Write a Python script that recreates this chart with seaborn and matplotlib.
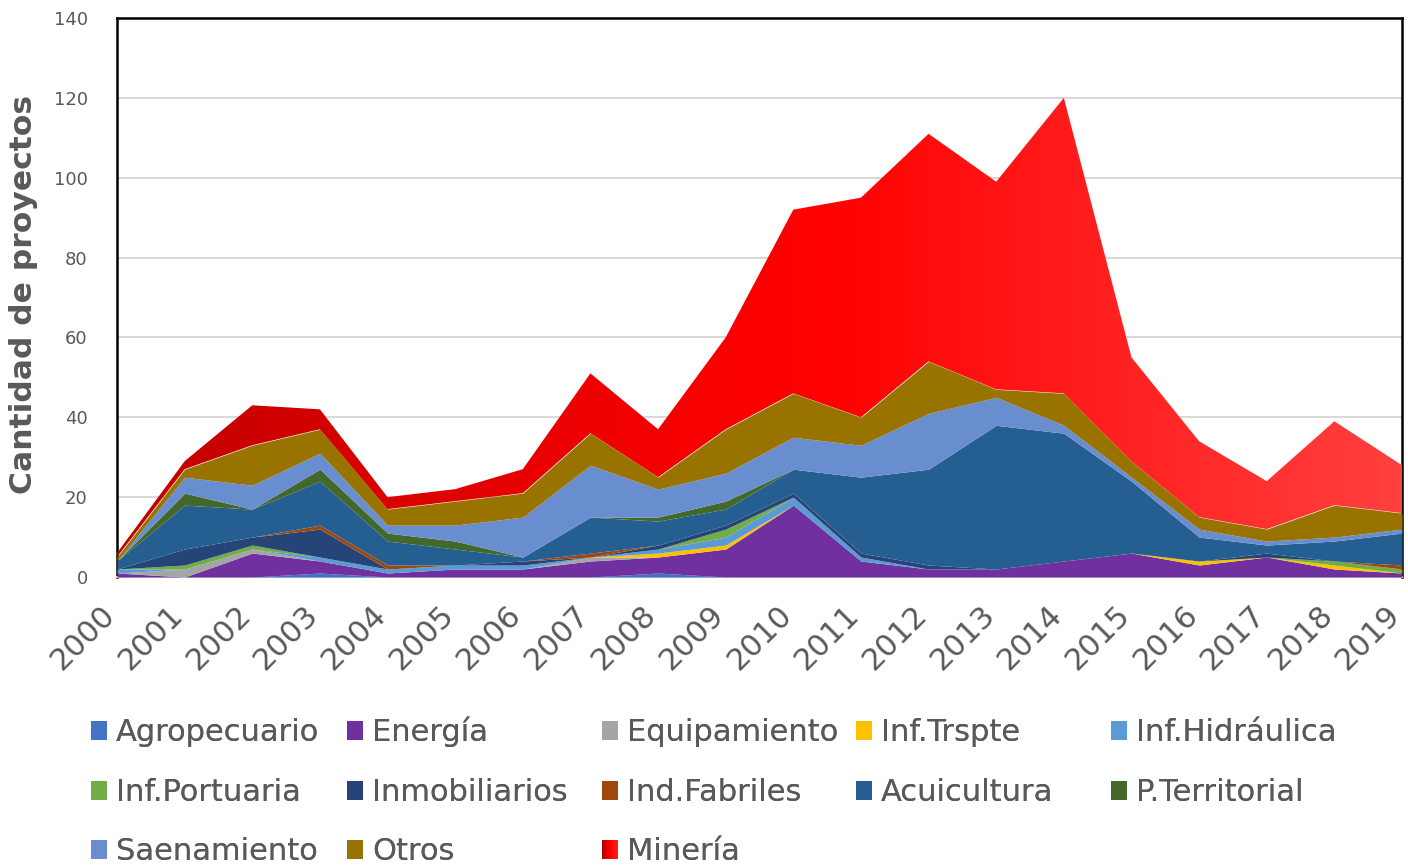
import numpy as np
import pandas as pd
import matplotlib
matplotlib.use("Agg")
import matplotlib.pyplot as plt
import seaborn as sns
from matplotlib.colors import LinearSegmentedColormap
from matplotlib.patches import Rectangle
from matplotlib.legend_handler import HandlerBase
from matplotlib.transforms import ScaledTranslation

# ---------------- data ----------------
years = list(range(2000, 2020))
agropecuario   = [0, 0, 0, 1, 0, 0, 0, 0, 1, 0, 0, 0, 0, 0, 0, 0, 0, 0, 0, 0]
energia        = [1, 0, 6, 3, 1, 2, 2, 4, 4, 7, 18, 4, 2, 2, 4, 6, 3, 5, 2, 1]
equipamiento   = [0, 2, 1, 0, 0, 0, 0, 1, 0, 0, 0, 0, 0, 0, 0, 0, 0, 0, 0, 0]
inf_trspte     = [0, 0, 0, 0, 0, 0, 0, 0, 1, 1, 0, 0, 0, 0, 0, 0, 1, 0, 1, 0]
inf_hidraulica = [1, 0, 0, 1, 1, 1, 1, 0, 1, 2, 2, 1, 0, 0, 0, 0, 0, 0, 0, 0]
inf_portuaria  = [0, 1, 1, 0, 0, 0, 0, 0, 0, 2, 0, 0, 0, 0, 0, 0, 0, 0, 1, 1]
inmobiliarios  = [0, 4, 2, 7, 0, 0, 1, 0, 1, 1, 1, 1, 1, 0, 0, 0, 0, 1, 0, 0]
ind_fabriles   = [0, 0, 0, 1, 1, 0, 0, 1, 0, 0, 0, 0, 0, 0, 0, 0, 0, 0, 0, 1]
acuicultura    = [2, 11, 7, 11, 6, 4, 1, 9, 6, 4, 6, 19, 24, 36, 32, 18, 6, 2, 5, 8]
p_territorial  = [0, 3, 0, 3, 2, 2, 0, 0, 1, 2, 0, 0, 0, 0, 0, 0, 0, 0, 0, 0]
saneamiento    = [0, 4, 6, 4, 2, 4, 10, 13, 7, 7, 8, 8, 14, 7, 2, 1, 2, 1, 1, 1]
otros          = [1, 2, 10, 6, 4, 6, 6, 8, 3, 11, 11, 7, 13, 2, 8, 4, 3, 3, 8, 4]
mineria        = [1, 2, 10, 5, 3, 3, 6, 15, 12, 23, 46, 55, 57, 52, 74, 26, 19, 12, 21, 12]

labels = ["Agropecuario", "Energía", "Equipamiento", "Inf.Trspte", "Inf.Hidráulica",
          "Inf.Portuaria", "Inmobiliarios", "Ind.Fabriles", "Acuicultura", "P.Territorial",
          "Saenamiento", "Otros", "Minería"]
series = [agropecuario, energia, equipamiento, inf_trspte, inf_hidraulica,
          inf_portuaria, inmobiliarios, ind_fabriles, acuicultura, p_territorial,
          saneamiento, otros, mineria]
colors = ["#4472C4", "#7030A0", "#A5A5A5", "#FFC000", "#5B9BD5",
          "#70AD47", "#264478", "#9E480E", "#255E91", "#43682B",
          "#698ED0", "#997300", "#FF0000"]

df = pd.DataFrame({lab: vals for lab, vals in zip(labels, series)}, index=years)

# ---------------- style ----------------
sns.set_theme(style="white")
plt.rcParams["font.family"] = ["DejaVu Sans"]
txt_col = "#595959"

fig = plt.figure(figsize=(14.08, 8.66), dpi=100)
ax = fig.add_axes([117 / 1408, 1 - 577 / 866, (1402 - 117) / 1408, (577 - 18) / 866])

polys = ax.stackplot(df.index, [df[c].values for c in labels], colors=colors,
                     linewidth=0, zorder=3)

# gradient fill for Minería
min_cmap = LinearSegmentedColormap.from_list(
    "mineria", [(0.0, "#C00000"), (0.45, "#F80000"), (0.55, "#FF0000"), (1.0, "#FF4040")])
mpoly = polys[-1]
mpoly.set_facecolor("none")
grad = np.linspace(0, 1, 512).reshape(1, -1)
im = ax.imshow(grad, extent=[years[0], years[-1], 0, 140], aspect="auto",
               cmap=min_cmap, origin="lower", zorder=3, interpolation="bilinear")
im.set_clip_path(mpoly.get_paths()[0], transform=ax.transData)

ax.set_xlim(years[0], years[-1])
ax.set_ylim(0, 140)
ax.set_yticks(range(0, 141, 20))
ax.set_xticks(years)
ax.tick_params(axis="y", labelsize=13, labelcolor=txt_col, length=0, pad=21)
ax.tick_params(axis="x", length=7, width=1.5, color="#D9D9D9", direction="out", pad=17)
ax.set_xticklabels([str(y) for y in years], rotation=45, ha="right",
                   rotation_mode="anchor", va="center", fontsize=22, color=txt_col)
shift = ScaledTranslation(-6 / 100, 0, fig.dpi_scale_trans)
for lbl in ax.get_xticklabels():
    lbl.set_transform(lbl.get_transform() + shift)
ax.grid(axis="y", color="#D9D9D9", linewidth=1.5, zorder=0)
ax.set_axisbelow(True)

for s in ["left", "top", "right"]:
    ax.spines[s].set_color("black")
    ax.spines[s].set_linewidth(1.8)
    ax.spines[s].set_zorder(2.5)
ax.spines["bottom"].set_color("#D9D9D9")
ax.spines["bottom"].set_linewidth(1.5)

fig.text(24 / 1408, 1 - 294 / 866, "Cantidad de proyectos", rotation=90,
         fontsize=22.6, fontweight="bold", color=txt_col, ha="center", va="center")

# ---------------- legend ----------------
leg_cmap = LinearSegmentedColormap.from_list("legmin", ["#B00000", "#FF0000", "#FF2020"])


class GradientHandler(HandlerBase):
    def create_artists(self, legend, orig_handle, xdescent, ydescent,
                       width, height, fontsize, trans):
        n = 24
        arts = []
        for i in range(n):
            r = Rectangle((-xdescent + width * i / n, -ydescent), width / n * 1.1, height,
                          facecolor=leg_cmap(i / (n - 1)), edgecolor="none", transform=trans)
            arts.append(r)
        return arts


handles = []
hmap = {}
for lab, col in zip(labels, colors):
    h = Rectangle((0, 0), 1, 1, facecolor=col, edgecolor="none")
    if lab == "Minería":
        hmap[h] = GradientHandler()
    handles.append(h)

col_x = [91, 347, 602, 856, 1111]
row_bottom = [747, 807, 866]
ncols = 5
for i, (h, lab) in enumerate(zip(handles, labels)):
    r, c = divmod(i, ncols)
    leg = fig.legend([h], [lab], loc="lower left",
                     bbox_to_anchor=(col_x[c] / 1408, 1 - row_bottom[r] / 866),
                     frameon=False, fontsize=22, labelcolor=txt_col,
                     handlelength=0.53, handleheight=0.6, handletextpad=0.28,
                     borderpad=0, borderaxespad=0, handler_map=hmap)
    fig.add_artist(leg)

fig.savefig("out.png", dpi=100)
